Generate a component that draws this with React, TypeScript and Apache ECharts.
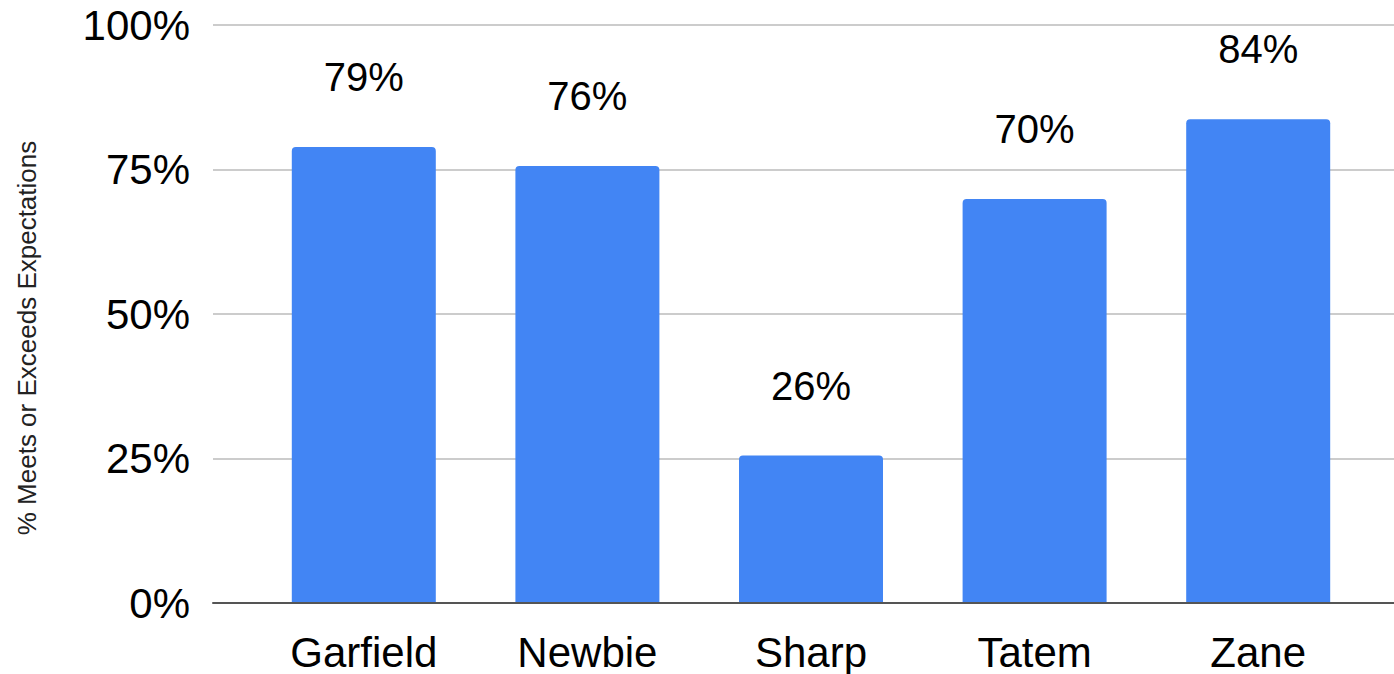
import React, { useEffect, useRef } from "react";
import * as echarts from "echarts";

const categories = ["Garfield", "Newbie", "Sharp", "Tatem", "Zane"];
const values = [78.9, 75.6, 25.5, 69.9, 83.7];
const yTicks = [0, 25, 50, 75, 100];
const yAxisTitle = "% Meets or Exceeds Expectations";

export default function App() {
  const ref = useRef<HTMLDivElement>(null);
  useEffect(() => {
    document.body.style.margin = "0";
    const chart = echarts.init(ref.current!, null, { renderer: "svg" });
    const font = "'Liberation Sans', Arial, sans-serif";
    chart.setOption({
      animation: false,
      backgroundColor: "#ffffff",
      textStyle: { fontFamily: font },
      grid: [
        { left: 213, right: 0, top: 25, bottom: 71 },
        { left: 252, right: 24, top: 25, bottom: 71 },
      ],
      graphic: [
        {
          type: "text",
          x: 27,
          y: 338,
          rotation: Math.PI / 2,
          style: {
            text: yAxisTitle,
            fontSize: 26,
            fill: "#222222",
            fontFamily: font,
            align: "center",
            verticalAlign: "middle",
          },
        },
      ],
      xAxis: [
        {
          gridIndex: 0,
          type: "value",
          min: 0,
          max: 1,
          z: 10,
          axisLine: { show: true, onZero: false, lineStyle: { color: "#555555", width: 2 } },
          axisTick: { show: false },
          axisLabel: { show: false },
          splitLine: { show: false },
        },
        {
          gridIndex: 1,
          type: "category",
          data: categories,
          axisLine: { show: false },
          axisTick: { show: false },
          axisLabel: { fontSize: 42, lineHeight: 44, color: "#000000", margin: 27, fontFamily: font },
        },
      ],
      yAxis: [
        {
          gridIndex: 0,
          type: "value",
          min: yTicks[0],
          max: yTicks[yTicks.length - 1],
          interval: 25,
          axisLine: { show: false },
          axisTick: { show: false },
          axisLabel: { formatter: "{value}%", fontSize: 42, color: "#000000", margin: 23, fontFamily: font },
          splitLine: { lineStyle: { color: "#cccccc", width: 2 } },
        },
        {
          gridIndex: 1,
          type: "value",
          min: 0,
          max: 100,
          show: false,
          splitLine: { show: false },
        },
      ],
      series: [
        {
          type: "bar",
          xAxisIndex: 1,
          yAxisIndex: 1,
          data: values,
          barWidth: 144,
          itemStyle: { color: "#4285F4", borderRadius: [4, 4, 0, 0] },
          label: {
            show: true,
            position: "top",
            distance: 50,
            fontSize: 40,
            color: "#000000",
            fontFamily: font,
            formatter: (p: any) => Math.round(p.value) + "%",
          },
        },
      ],
    });
    return () => chart.dispose();
  }, []);
  return <div ref={ref} style={{ width: 1394, height: 674 }} />;
}
